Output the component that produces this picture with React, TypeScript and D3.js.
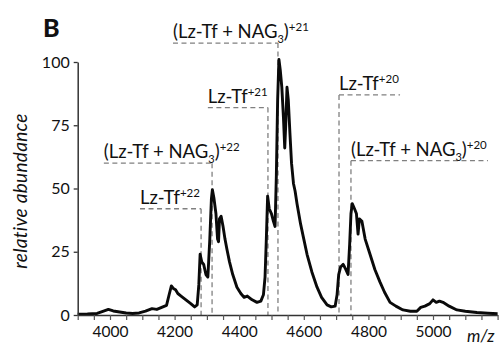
import React, { useEffect, useRef } from 'react';
import * as d3 from 'd3';

// spectrum trace (m/z, relative abundance)
const mzValues = [
  3900, 3930, 3960, 3980, 3995, 4010, 4030, 4050, 4070, 4090, 4110, 4130, 4145, 4160, 4175,
  4183, 4190, 4196, 4203, 4210, 4220, 4235, 4250, 4262, 4270, 4275, 4279, 4284, 4290, 4297,
  4303, 4309, 4314, 4317, 4322, 4328, 4333, 4336, 4339, 4344, 4350, 4356, 4362, 4370, 4380,
  4393, 4405, 4415, 4425, 4440, 4455, 4467, 4475, 4480, 4484, 4488, 4493, 4500, 4506, 4511,
  4515, 4519, 4523, 4527, 4532, 4537, 4541, 4544, 4548, 4552, 4557, 4562, 4568, 4573, 4579,
  4590, 4600, 4610, 4625, 4641, 4655, 4672, 4685, 4697, 4703, 4708, 4714, 4722, 4730, 4737,
  4742, 4746, 4750, 4757, 4763, 4768, 4772, 4780, 4790, 4805, 4820, 4836, 4850, 4867, 4885,
  4907, 4930, 4950, 4962, 4975, 4990, 5000, 5010, 5020, 5031, 5050, 5074, 5100, 5136, 5170,
  5200,
];
const abundance = [
  0.3, 0.4, 0.6, 1.5, 2.2, 1.6, 1.2, 0.8, 0.6, 0.8, 1.5, 2.5, 2.2, 3.0, 3.8,
  8, 11.5, 10.5, 10, 8.5, 7.5, 6, 4.5, 3.2, 4, 12, 24, 21, 20, 16,
  15, 30, 46, 49.5, 46, 40, 30, 29, 38, 39, 35, 30, 26, 21, 16,
  11, 8.5, 7, 7.5, 6, 5, 5.5, 8, 15, 30, 47, 42, 40, 37, 35,
  55, 85, 101, 97, 90, 78, 66, 75, 90, 85, 72, 60, 52, 49, 44,
  36, 30, 24, 17, 11, 7, 4, 3.2, 3.5, 8, 16, 19, 20, 18, 16,
  28, 40, 44, 42, 40, 32, 38, 37, 30, 24, 18, 13, 9, 5, 3.5,
  2, 1.5, 1.5, 3, 3.5, 4.5, 6, 5, 5.5, 5, 3.5, 2, 1.5, 1, 0.7,
  0.5,
];

// peak annotations
const annCharge = ['+22', '+22', '+21', '+21', '+20', '+20'];
const annHasNag = [false, true, false, true, false, true];
const annMz = [4282, 4316, 4489, 4520, 4709, 4746];
const annLevel = [42, 60, 82, 107.5, 87, 61];
const annLineFrom = [4093, 3981, 4303, 4195, 4709, 4746];
const annLineTo = [4282, 4316, 4489, 4520, 4898, 5170];

const xTicks = d3.range(3900, 5201, 50);
const xLabels = [4000, 4200, 4400, 4600, 4800, 5000];
const yTicks = [0, 25, 50, 75, 100];

const width = 503;
const height = 345;
const font = 'Lato, "Open Sans", sans-serif';

const App: React.FC = () => {
  const svgRef = useRef<SVGSVGElement>(null);

  useEffect(() => {
    if (!svgRef.current) return;
    const svg = d3.select(svgRef.current);
    svg.selectAll('*').remove();

    const x = d3.scaleLinear().domain([3900, 5200]).range([77.7, 497.6]);
    const y = d3.scaleLinear().domain([0, 100]).range([315, 62]);

    // dashed annotation guides
    const guides = svg.append('g')
      .attr('fill', 'none')
      .attr('stroke', '#808080')
      .attr('stroke-width', 1.3)
      .attr('stroke-dasharray', '5,3.5');

    annMz.forEach((mz, i) => {
      guides.append('line')
        .attr('x1', x(annLineFrom[i])).attr('x2', x(annLineTo[i]))
        .attr('y1', y(annLevel[i])).attr('y2', y(annLevel[i]));
      guides.append('line')
        .attr('x1', x(mz)).attr('x2', x(mz))
        .attr('y1', y(annLevel[i])).attr('y2', y(0));
    });

    // labels
    annMz.forEach((_, i) => {
      const t = svg.append('text')
        .attr('x', x(annLineFrom[i]))
        .attr('y', y(annLevel[i]) - 5)
        .style('font-family', font)
        .style('font-size', '18.5px')
        .style('fill', '#111');
      if (annHasNag[i]) {
        t.append('tspan').text('(Lz-Tf + NAG');
        t.append('tspan').attr('dy', 5).style('font-size', '11px').text('3');
        t.append('tspan').attr('dy', -5).text(')');
      } else {
        t.append('tspan').text('Lz-Tf');
      }
      t.append('tspan').attr('dy', -7).style('font-size', '11.5px').text(annCharge[i]);
    });

    // spectrum trace
    const line = d3.line<number>()
      .x((_, i) => x(mzValues[i]))
      .y((d) => y(d));
    svg.append('path')
      .datum(abundance)
      .attr('d', line)
      .attr('fill', 'none')
      .attr('stroke', '#0a0a0a')
      .attr('stroke-width', 2.9)
      .attr('stroke-linejoin', 'round');

    // x axis
    const xAxis = svg.append('g')
      .attr('transform', `translate(0,${y(0)})`)
      .call(
        d3.axisBottom(x)
          .tickValues(xTicks)
          .tickSize(5)
          .tickSizeOuter(0)
          .tickFormat((d) => (xLabels.includes(d as number) ? String(d) : ''))
      );
    xAxis.select('.domain').attr('stroke', '#333').attr('stroke-width', 1.5);
    xAxis.selectAll('.tick line').attr('stroke', '#555').attr('stroke-width', 1.2);
    xAxis.selectAll('.tick text')
      .attr('y', 22)
      .attr('dy', 0)
      .style('font-family', font)
      .style('font-size', '15.5px')
      .style('fill', '#111');

    // y axis
    const yAxis = svg.append('g')
      .attr('transform', `translate(${x(3900)},0)`)
      .call(d3.axisLeft(y).tickValues(yTicks).tickSize(4).tickSizeOuter(0));
    yAxis.select('.domain').attr('stroke', '#333').attr('stroke-width', 1.5);
    yAxis.selectAll('.tick line').attr('stroke', '#333').attr('stroke-width', 1.3);
    yAxis.selectAll('.tick text')
      .attr('x', -8)
      .style('font-family', font)
      .style('font-size', '16px')
      .style('fill', '#111');

    // axis titles
    svg.append('text')
      .attr('transform', 'translate(27,191) rotate(-90)')
      .attr('text-anchor', 'middle')
      .style('font-family', font)
      .style('font-style', 'italic')
      .style('font-size', '19px')
      .style('letter-spacing', '0.3px')
      .style('fill', '#111')
      .text('relative abundance');

    svg.append('text')
      .attr('x', 467)
      .attr('y', 342)
      .style('font-family', font)
      .style('font-style', 'italic')
      .style('font-size', '17px')
      .style('fill', '#111')
      .text('m/z');

    // panel letter
    svg.append('text')
      .attr('x', 43)
      .attr('y', 37)
      .style('font-family', font)
      .style('font-weight', 900)
      .style('font-size', '25px')
      .style('fill', '#111')
      .text('B');
  }, []);

  return (
    <div style={{ position: 'absolute', left: 0, top: 0, background: 'white' }}>
      <svg ref={svgRef} width={width} height={height} style={{ display: 'block' }}></svg>
    </div>
  );
};

export default App;
